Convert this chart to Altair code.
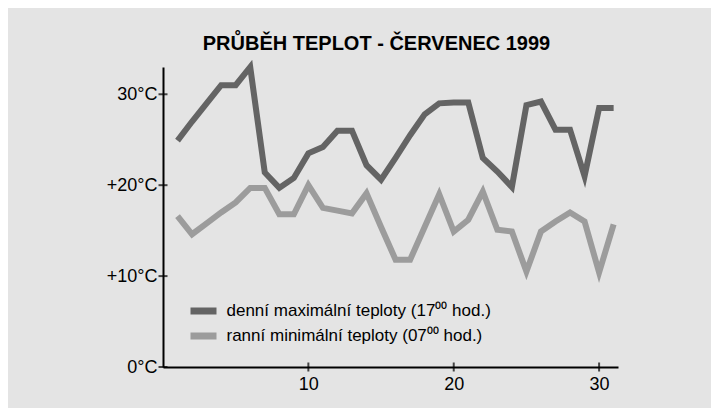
import altair as alt
import pandas as pd

# ---- data ----
days = list(range(1, 32))
max_temp = [24.9, 27.0, 29.0, 31.0, 31.0, 33.0, 21.4, 19.7, 20.8, 23.5,
            24.2, 26.0, 26.0, 22.2, 20.6, 23.0, 25.5, 27.8, 29.0, 29.1,
            29.1, 23.0, 21.5, 19.8, 28.8, 29.2, 26.1, 26.1, 21.0, 28.5, 28.5]
min_temp = [16.6, 14.6, 15.8, 17.0, 18.1, 19.7, 19.7, 16.8, 16.8, 20.0,
            17.5, 17.2, 16.9, 19.1, 15.4, 11.8, 11.8, 15.4, 19.0, 14.9,
            16.2, 19.3, 15.1, 14.9, 10.5, 14.9, 16.0, 17.0, 16.0, 10.4, 15.7]
series_names = ["denní maximální teploty (17⁰⁰ hod.)",
                "ranní minimální teploty (07⁰⁰ hod.)"]
series_colors = ["#646464", "#9c9c9c"]
y_ticks = [0, 10, 20, 30]
y_tick_labels = ["0°C", "+10°C", "+20°C", "30°C"]
x_ticks = [10, 20, 30]
chart_title = "PRŮBĚH TEPLOT - ČERVENEC 1999"

df = pd.DataFrame({
    "den": days + days,
    "teplota": max_temp + min_temp,
    "serie": [series_names[0]] * len(days) + [series_names[1]] * len(days),
})
ytick_df = pd.DataFrame({"teplota": y_ticks})
xtick_df = pd.DataFrame({"den": x_ticks})

label_expr = "''"
for v, lab in zip(y_ticks, y_tick_labels):
    label_expr = f"datum.value == {v} ? '{lab}' : ({label_expr})"

FONT = "Liberation Sans"
xscale = alt.Scale(domain=[0, 31.3], nice=False, zero=False)
yscale = alt.Scale(domain=[0, 33], nice=False, zero=False)

x_axis = alt.Axis(values=x_ticks, title=None, grid=False, ticks=False, tickSize=0,
                  labelPadding=8, labelFontSize=18, labelFont=FONT, labelColor="black",
                  domainColor="black", domainWidth=2, format="d")
y_axis = alt.Axis(values=y_ticks, title=None, grid=False, ticks=False, tickSize=0,
                  labelPadding=6, labelFontSize=18, labelFont=FONT, labelColor="black",
                  domainColor="black", domainWidth=2, labelExpr=label_expr)

lines = alt.Chart(df).mark_line(strokeWidth=6, strokeJoin="miter").encode(
    x=alt.X("den:Q", scale=xscale, axis=x_axis),
    y=alt.Y("teplota:Q", scale=yscale, axis=y_axis),
    color=alt.Color("serie:N",
                    scale=alt.Scale(domain=series_names, range=series_colors),
                    legend=alt.Legend(orient="none", legendX=30.5, legendY=234, title=None,
                                      symbolType="M-2,0H2", symbolSize=169,
                                      symbolStrokeWidth=7, labelFontSize=17,
                                      labelFont=FONT, labelColor="black",
                                      labelLimit=0, labelOffset=13,
                                      rowPadding=-3, padding=0)),
)

yticks = alt.Chart(ytick_df).mark_tick(orient="horizontal", size=9, thickness=2,
                                       color="black").encode(
    y=alt.Y("teplota:Q", scale=yscale),
    x=alt.datum(0),
)
xticks = alt.Chart(xtick_df).mark_tick(orient="vertical", size=9, thickness=2,
                                       color="black").encode(
    x=alt.X("den:Q", scale=xscale),
    y=alt.datum(0),
)

chart = alt.layer(lines, yticks, xticks).properties(
    width=455, height=300,
    autosize=alt.AutoSizeParams(type="none"),
    padding={"left": 155, "top": 59, "right": 93, "bottom": 41},
    background="#e4e4e4",
    title=alt.TitleParams(text=chart_title, font=FONT, fontSize=20, fontWeight="bold",
                          color="black", anchor="middle", dx=-14, dy=31, offset=16,
                          baseline="alphabetic"),
).configure_view(strokeWidth=0)

chart.save("out.html", embed_options={"renderer": "svg", "actions": False})
